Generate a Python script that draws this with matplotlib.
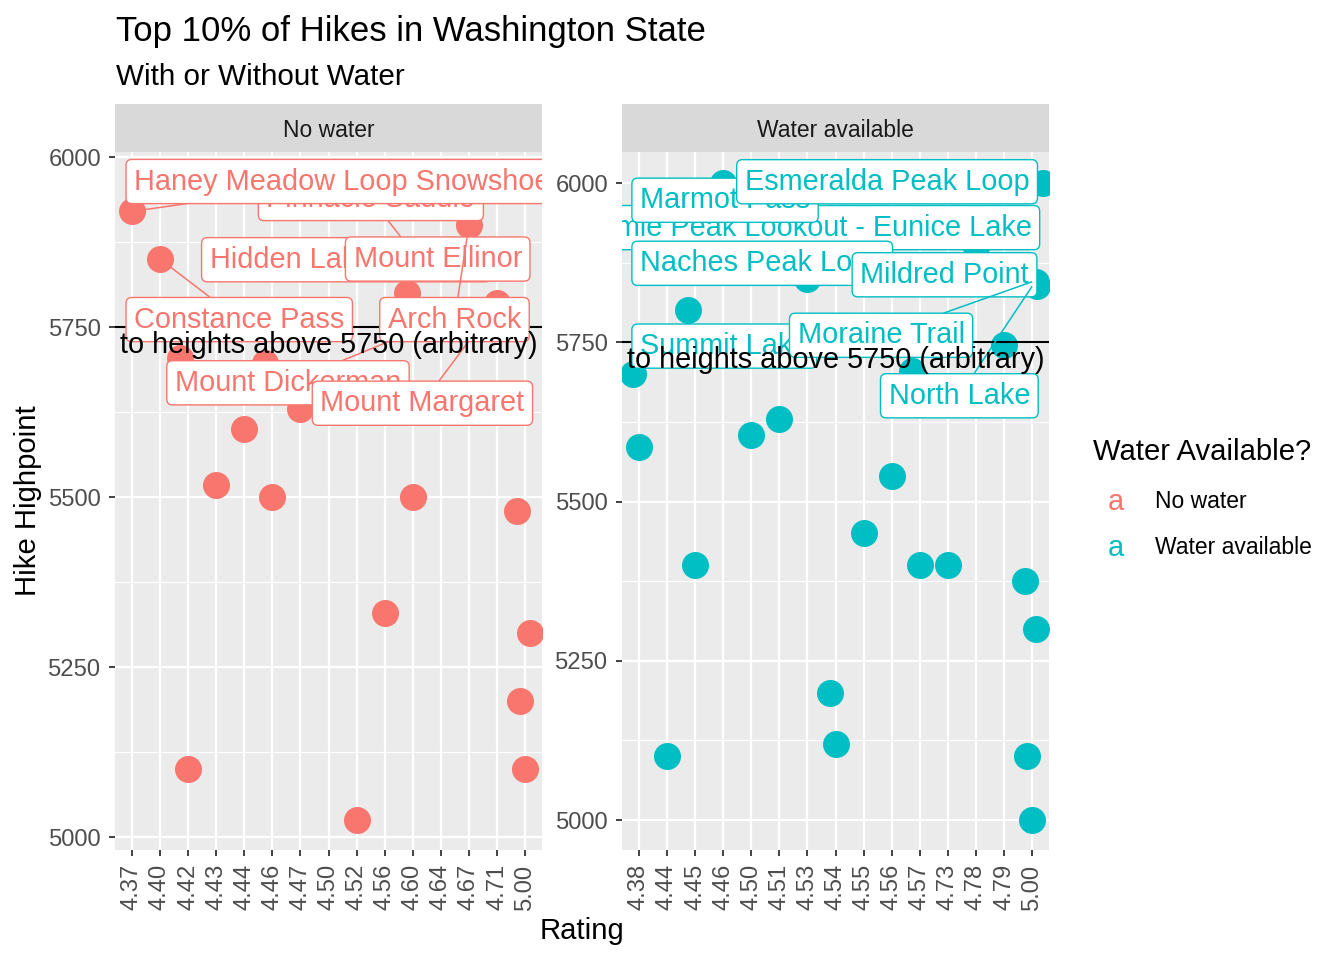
import matplotlib
matplotlib.use("Agg")
import matplotlib.pyplot as plt
import numpy as np

plt.rcParams['font.family'] = ['Liberation Sans', 'DejaVu Sans']

# ---------------- data ----------------
groups = ["No water", "Water available"]
group_colors = ["#F8766D", "#00BFC4"]

nw_categories = ["4.37", "4.40", "4.42", "4.43", "4.44", "4.46", "4.47", "4.50",
                 "4.52", "4.56", "4.60", "4.64", "4.67", "4.71", "5.00"]
nw_rating = ["4.37", "4.40", "4.42", "4.42", "4.43", "4.44", "4.46", "4.46", "4.47",
             "4.50", "4.52", "4.56", "4.60", "4.60", "4.60", "4.64", "4.67", "4.71",
             "5.00", "5.00", "5.00", "5.00"]
nw_high = [5920, 5850, 5100, 5705, 5518, 5600, 5500, 5697, 5630,
           5845, 5025, 5330, 5860, 5800, 5500, 5760, 5900, 5785,
           5480, 5300, 5200, 5100]
nw_name = ["Haney Meadow Loop Snowshoe", "Constance Pass", "", "", "", "", "", "", "",
           "Hidden Lake Lookout", "", "", "Pinnacle Saddle", "Mount Ellinor", "",
           "Mount Dickerman", "Arch Rock", "Mount Margaret", "", "", "", ""]
nw_jitter = [0, 0, 0, -0.27, 0, 0, 0, -0.25, 0,
             0, 0, 0, 0, -0.2, 0, 0, 0, 0,
             -0.29, 0.19, -0.19, 0]

w_categories = ["4.38", "4.44", "4.45", "4.46", "4.50", "4.51", "4.53", "4.54",
                "4.55", "4.56", "4.57", "4.73", "4.78", "4.79", "5.00"]
w_rating = ["4.38", "4.38", "4.44", "4.45", "4.45", "4.46", "4.50", "4.51", "4.53",
            "4.54", "4.54", "4.55", "4.56", "4.57", "4.57", "4.73", "4.78", "4.79",
            "5.00", "5.00", "5.00", "5.00", "5.00", "5.00", "5.00", "5.00"]
w_high = [5700, 5585, 5100, 5800, 5400, 6000, 5605, 5630, 5850,
          5200, 5120, 5450, 5540, 5705, 5400, 5400, 5900, 5745,
          6000, 5840, 5845, 5838, 5375, 5300, 5100, 5000]
w_name = ["", "", "", "Summit Lake", "", "Marmot Pass", "", "", "Naches Peak Loop",
          "", "", "", "", "", "", "", "Tolmie Peak Lookout - Eunice Lake", "",
          "Esmeralda Peak Loop", "Mildred Point", "Moraine Trail", "North Lake",
          "", "", "", ""]
w_jitter = [-0.2, 0, 0, -0.24, 0, 0, 0, 0, 0,
            -0.2, 0, 0, 0, -0.28, 0, 0, 0, 0,
            0.4, 0.15, 0.12, 0.16, -0.25, 0.13, -0.19, 0]

y_ticks = [5000, 5250, 5500, 5750, 6000]
y_minor = [5125, 5375, 5625, 5875]
threshold = 5750
note_text = "to heights above 5750 (arbitrary)"

# ---------------- layout (label placement, drawing order) ----------------
nw_label_layout = [
    ("Constance Pass", 1.08, 5761, "left"),
    ("Hidden Lake Lookout", 3.77, 5849, "left"),
    ("Pinnacle Saddle", 5.79, 5939, "left"),
    ("Haney Meadow Loop Snowshoe", 1.08, 5964, "left"),
    ("Mount Ellinor", 8.89, 5850, "left"),
    ("Mount Dickerman", 2.53, 5668, "left"),
    ("Mount Margaret", 7.71, 5638, "left"),
    ("Arch Rock", 10.11, 5761, "left"),
]
w_label_layout = [
    ("Tolmie Peak Lookout - Eunice Lake", 14.98, 5930, "right"),
    ("Naches Peak Loop", 1.04, 5874, "left"),
    ("Marmot Pass", 1.04, 5973, "left"),
    ("Esmeralda Peak Loop", 4.77, 6002, "left"),
    ("Mildred Point", 8.88, 5856, "left"),
    ("Summit Lake", 1.04, 5744, "left"),
    ("Moraine Trail", 6.65, 5761, "left"),
    ("North Lake", 9.89, 5666, "left"),
]

W, H = 1344, 960
fig = plt.figure(figsize=(W / 100, H / 100), dpi=100)
fig.patch.set_facecolor("white")

TICK_FS = 17.1
SMALL_FS = 16.5
LBL_FS = 20.8
PANEL_TOP, PANEL_BOT, STRIP_TOP = 152, 850, 104

panels = [
    dict(cats=nw_categories, rating=nw_rating, high=nw_high, name=nw_name, jit=nw_jitter,
         layout=nw_label_layout, color=group_colors[0], title=groups[0],
         x0=115, x1=542, ylim=(4981, 6007.4)),
    dict(cats=w_categories, rating=w_rating, high=w_high, name=w_name, jit=w_jitter,
         layout=w_label_layout, color=group_colors[1], title=groups[1],
         x0=622, x1=1049, ylim=(4953, 6048.7)),
]

label_items = []
for p in panels:
    ax = fig.add_axes([p["x0"] / W, 1 - PANEL_BOT / H, (p["x1"] - p["x0"]) / W,
                       (PANEL_BOT - PANEL_TOP) / H])
    ax.set_facecolor("#EBEBEB")
    for s in ax.spines.values():
        s.set_visible(False)
    ncat = len(p["cats"])
    ax.set_xlim(0.4, ncat + 0.6)
    ax.set_ylim(*p["ylim"])
    ax.set_xticks(np.arange(1, ncat + 1))
    ax.set_xticklabels(p["cats"], rotation=90, ha="center", va="top")
    ax.set_yticks(y_ticks)
    ax.set_yticklabels([str(v) for v in y_ticks])
    ax.set_yticks(y_minor, minor=True)
    ax.tick_params(axis="both", which="major", length=4.3, width=1.3, color="#333333",
                   labelsize=TICK_FS, labelcolor="#4D4D4D", pad=5.5)
    ax.tick_params(axis="y", which="minor", length=0)
    ax.set_axisbelow(True)
    ax.grid(True, which="major", color="white", lw=1.6)
    ax.grid(True, which="minor", axis="y", color="white", lw=0.8)

    pos = {c: i + 1 for i, c in enumerate(p["cats"])}
    xs = np.array([pos[r] for r in p["rating"]], dtype=float)
    xj = xs + np.array(p["jit"])
    ax.scatter(xj, p["high"], s=378, color=p["color"], linewidths=0, zorder=2)

    ax.axhline(threshold, color="black", lw=1.5, zorder=3)

    for k, (nm, lx, ly, ha) in enumerate(p["layout"]):
        i = p["name"].index(nm)
        t = ax.text(lx, ly, nm, ha=ha, va="center", fontsize=LBL_FS, color=p["color"],
                    zorder=10 + 2 * k + 1, clip_on=True,
                    bbox=dict(boxstyle="round,pad=0.28,rounding_size=0.2", fc="white",
                              ec=p["color"], lw=1.0))
        label_items.append((ax, t, xs[i], p["high"][i], p["color"], 10 + 2 * k))

    ax.annotate(note_text, xy=((ncat + 1) / 2, threshold), xytext=(0, -13),
                textcoords="offset points", ha="center", va="center",
                fontsize=LBL_FS, color="black", zorder=50, annotation_clip=False,
                clip_on=True)

    # facet strip
    sax = fig.add_axes([p["x0"] / W, 1 - PANEL_TOP / H, (p["x1"] - p["x0"]) / W,
                        (PANEL_TOP - STRIP_TOP) / H])
    sax.set_facecolor("#D9D9D9")
    sax.set_xticks([]); sax.set_yticks([])
    for s in sax.spines.values():
        s.set_visible(False)
    sax.text(0.5, 0.44, p["title"], ha="center", va="center", fontsize=SMALL_FS,
             color="#1A1A1A", transform=sax.transAxes)

# segments from label boxes to points (drawn just beneath each label)
fig.canvas.draw()
renderer = fig.canvas.get_renderer()
for ax, t, px, py, col, z in label_items:
    bb = t.get_bbox_patch().get_window_extent(renderer)
    cx, cy = (bb.x0 + bb.x1) / 2, (bb.y0 + bb.y1) / 2
    tx, ty = ax.transData.transform((px, py))
    if bb.x0 <= tx <= bb.x1 and bb.y0 <= ty <= bb.y1:
        continue
    dx, dy = tx - cx, ty - cy
    ts = []
    if dx > 0: ts.append((bb.x1 - cx) / dx)
    if dx < 0: ts.append((bb.x0 - cx) / dx)
    if dy > 0: ts.append((bb.y1 - cy) / dy)
    if dy < 0: ts.append((bb.y0 - cy) / dy)
    tt = min(ts)
    ex, ey = cx + tt * dx, cy + tt * dy
    if np.hypot(tx - ex, ty - ey) < 22:
        continue
    dex, dey = ax.transData.inverted().transform((ex, ey))
    ax.plot([dex, px], [dey, py], color=col, lw=1.1, zorder=z, clip_on=True,
            solid_capstyle="butt")

# titles
fig.text(116 / W, 1 - 32 / H, "Top 10% of Hikes in Washington State", fontsize=25.0,
         ha="left", va="center", color="black")
fig.text(116 / W, 1 - 77 / H, "With or Without Water", fontsize=21.3,
         ha="left", va="center", color="black")
fig.text(28 / W, 1 - 501 / H, "Hike Highpoint", fontsize=21.1, rotation=90,
         ha="center", va="center", color="black")
fig.text(582 / W, 1 - 931 / H, "Rating", fontsize=21.1, ha="center", va="center",
         color="black")

# legend
fig.text(1093 / W, 1 - 452 / H, "Water Available?", fontsize=21.1, ha="left",
         va="center", color="black")
for gi, (g, c) in enumerate(zip(groups, group_colors)):
    yy = 1 - (502 + 46 * gi) / H
    fig.text(1116 / W, yy, "a", fontsize=LBL_FS, color=c, ha="center", va="center")
    fig.text(1155 / W, yy, g, fontsize=SMALL_FS, color="black", ha="left", va="center")

fig.savefig("out.png", dpi=100, facecolor="white")
